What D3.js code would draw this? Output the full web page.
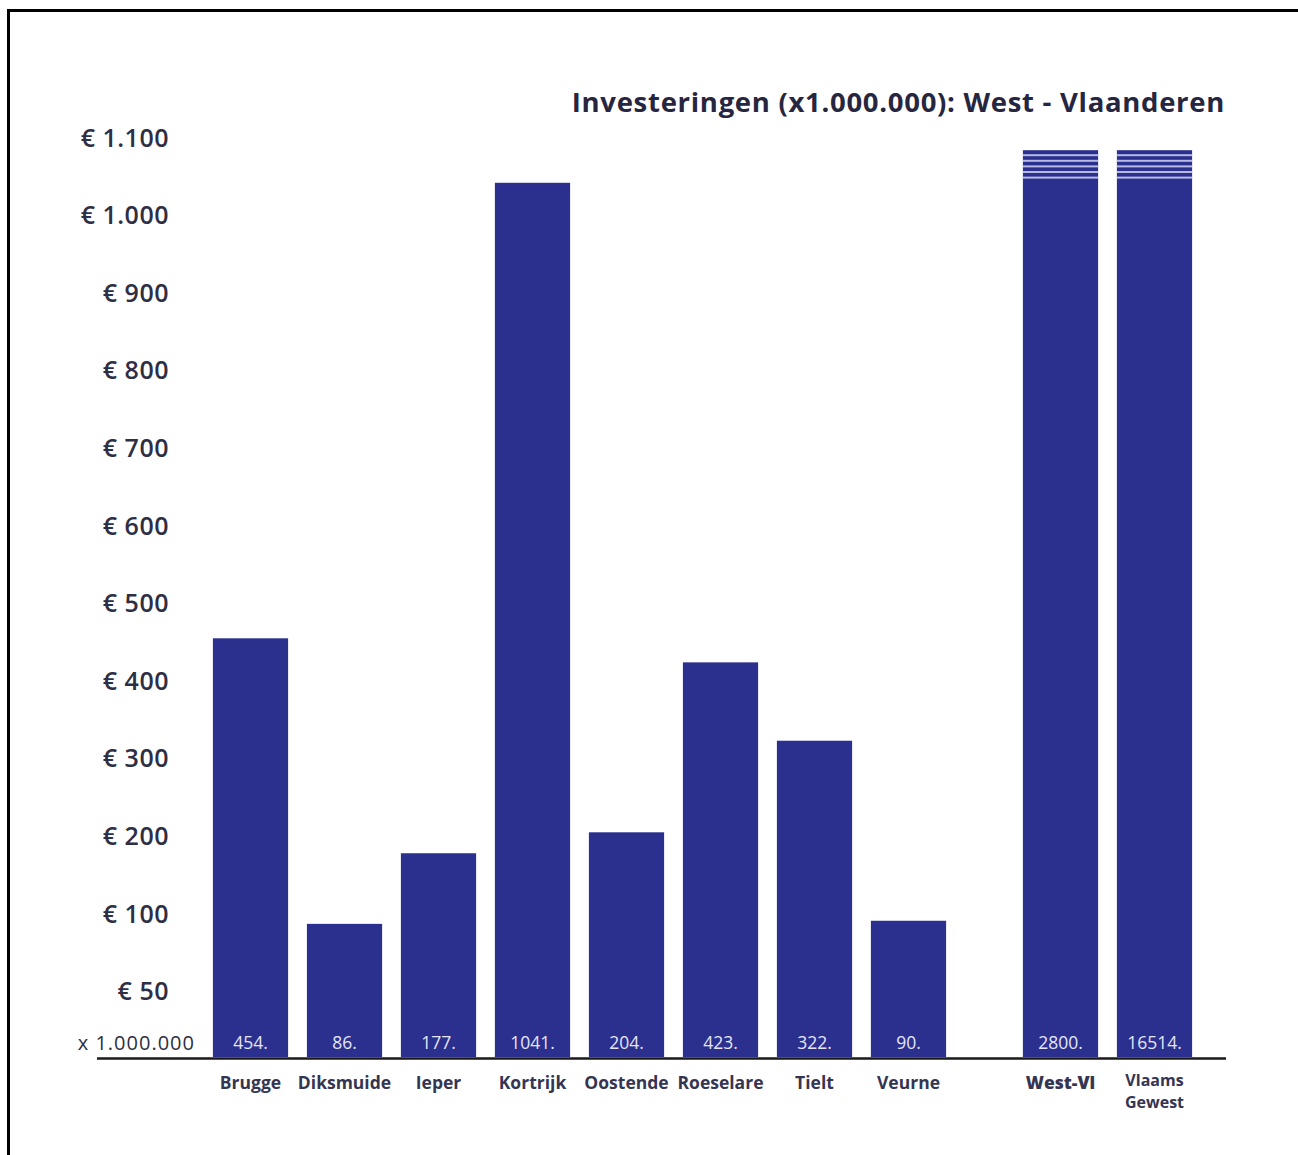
<!DOCTYPE html>
<html>
<head>
<meta charset="utf-8">
<script src="https://cdn.jsdelivr.net/npm/d3@7"></script>
<style>
  html, body { margin: 0; padding: 0; background: #ffffff; }
  svg { display: block; }
</style>
</head>
<body>
<script>
// ---- data ----
const categories = ["Brugge", "Diksmuide", "Ieper", "Kortrijk", "Oostende", "Roeselare", "Tielt", "Veurne", "West-Vl", "Vlaams Gewest"];
const values = [454, 86, 177, 1041, 204, 423, 322, 90, 2800, 16514];
const valueLabels = ["454.", "86.", "177.", "1041.", "204.", "423.", "322.", "90.", "2800.", "16514."];
const groups = [0, 0, 0, 0, 0, 0, 0, 0, 1, 1];          // 1 = totals (broken bars)
const tickValues = [1100, 1000, 900, 800, 700, 600, 500, 400, 300, 200, 100, 0];
const tickLabels = ["€ 1.100", "€ 1.000", "€ 900", "€ 800", "€ 700", "€ 600", "€ 500", "€ 400", "€ 300", "€ 200", "€ 100", "€ 50"];
const unitLabel = "x 1.000.000";
const title = "Investeringen (x1.000.000): West - Vlaanderen";
const axisMax = 1100;
const breakValue = 1083; // visible cap of the broken bars

// ---- layout ----
const W = 1298, H = 1155;
const baseY = 1057;
const barColor = "#2b2f8e";
const textColor = "#2e2e44";
const font = "'Open Sans', 'Noto Sans', sans-serif";

const svg = d3.select("body").append("svg").attr("width", W).attr("height", H);

// frame (only top and left visible)
svg.append("rect").attr("x", 8.5).attr("y", 10.5).attr("width", W).attr("height", H)
  .attr("fill", "none").attr("stroke", "#000").attr("stroke-width", 3);

const y = d3.scaleLinear().domain([0, axisMax]).range([990.6, 137]);

const x = d3.scaleBand().domain(categories).range([213 - 9.5, 213 - 9.5 + 10 * 94]).paddingInner(0.2).paddingOuter(0.1);
const groupOffset = 58;
const bx = (c, i) => x(c) + (groups[i] ? groupOffset : 0);
const bw = x.bandwidth();

// title
svg.append("text").attr("x", 1225).attr("y", 112).attr("text-anchor", "end")
  .attr("font-family", font).attr("font-size", 27.5).attr("font-weight", 700)
  .attr("letter-spacing", 0.7)
  .attr("fill", "#262640").text(title);

// y tick labels
const yAxis = d3.axisLeft(y).tickValues(tickValues).tickSize(0)
  .tickFormat((d, i) => tickLabels[i]);
const gy = svg.append("g").attr("transform", "translate(166,0)").call(yAxis);
gy.select(".domain").remove();
gy.selectAll("text").attr("font-family", font).attr("font-size", 25).attr("font-weight", 600)
  .attr("letter-spacing", 0.5)
  .attr("fill", textColor).attr("dx", 6).attr("dy", "0.36em");

// unit label
svg.append("text").attr("x", 195).attr("y", 1050).attr("text-anchor", "end")
  .attr("font-family", font).attr("font-size", 20).attr("letter-spacing", 1)
  .attr("fill", textColor).text(unitLabel);

// bars
const bars = svg.append("g");
categories.forEach((c, i) => {
  const v = groups[i] ? breakValue : values[i];
  bars.append("rect").attr("x", bx(c, i)).attr("y", y(v))
    .attr("width", bw).attr("height", baseY - y(v)).attr("fill", barColor);
  if (groups[i]) {
    // break stripes at top of the truncated bars
    [0, 1, 2, 3, 4].forEach(k => {
      bars.append("rect").attr("x", bx(c, i)).attr("y", y(v) + 4 + k * 5.6)
        .attr("width", bw).attr("height", 2).attr("fill", "#b7bbe3");
    });
  }
  bars.append("text").attr("x", bx(c, i) + bw / 2).attr("y", 1049)
    .attr("text-anchor", "middle").attr("font-family", font).attr("font-size", 17.5)
    .attr("fill", "#e4e6f6").text(valueLabels[i]);
});

// baseline
svg.append("line").attr("x1", 97).attr("x2", 1226).attr("y1", baseY + 1.5).attr("y2", baseY + 1.5)
  .attr("stroke", "#1a1a1a").attr("stroke-width", 2.5);

// category labels
categories.forEach((c, i) => {
  const words = c === "Vlaams Gewest" ? ["Vlaams", "Gewest"] : [c];
  words.forEach((w, k) => {
    svg.append("text").attr("text-anchor", "middle")
      .attr("x", bx(c, i) + bw / 2).attr("y", (words.length > 1 ? 1086 : 1089) + k * 22)
      .attr("font-family", font).attr("font-size", words.length > 1 ? 16 : 17.5)
      .attr("font-weight", c === "West-Vl" ? 800 : 700)
      .attr("fill", "#353552").text(w);
  });
});
</script>
</body>
</html>
